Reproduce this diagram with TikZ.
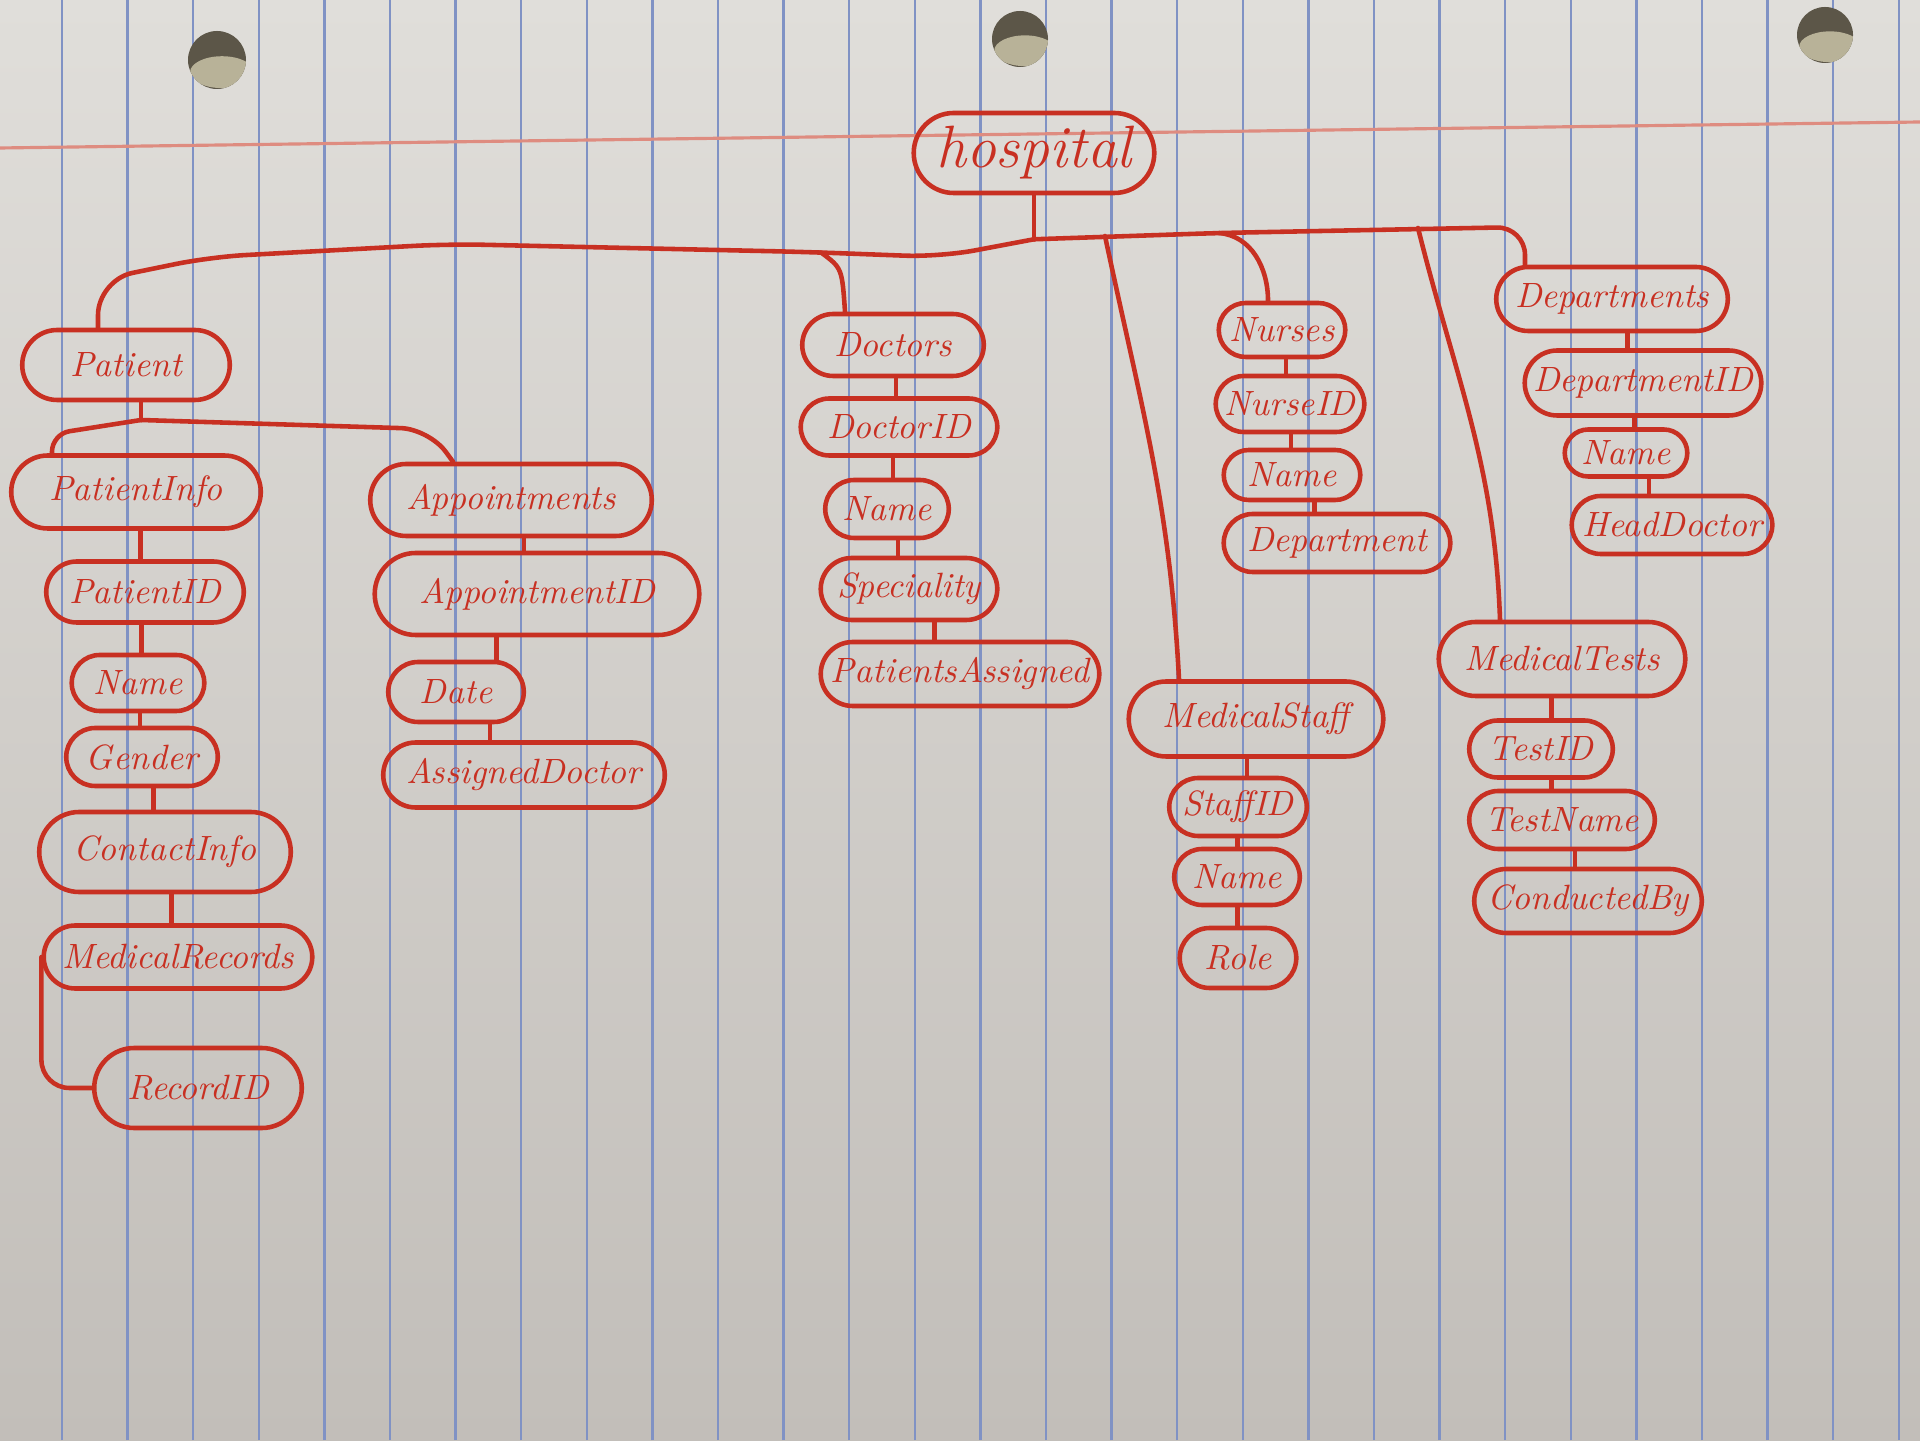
\documentclass[tikz,border=0pt]{standalone}
\usepackage{tikz}
\usetikzlibrary{shapes.misc, calc}

\definecolor{pen}{RGB}{200,48,34}
\definecolor{papertop}{RGB}{224,222,218}
\definecolor{paperbot}{RGB}{194,190,185}
\definecolor{rule}{RGB}{128,146,196}
\definecolor{margin}{RGB}{222,140,128}
\definecolor{hole}{RGB}{92,86,72}
\definecolor{holelight}{RGB}{184,178,152}

\begin{document}
\begin{tikzpicture}[
    ent/.style={rounded rectangle, draw=pen, line width=1.3pt},
    every label/.style={text=pen, font=\fontsize{10}{10}\selectfont\itshape},
    link/.style={draw=pen, line width=1.3pt, line cap=round, line join=round}
]
        % Paper
        \useasboundingbox (0,0) rectangle (19.2,14.4);
        \shade[top color=papertop, bottom color=paperbot] (0,0) rectangle (19.2,14.4);
        \foreach \k in {0,...,28}
            \draw[rule, line width=0.7pt] (0.62+0.656*\k,0) -- (0.62+0.656*\k,14.4);
        \draw[margin, line width=0.9pt] (0,12.92) -- (19.2,13.18);
        \foreach \hx/\hy/\hr in {2.17/13.80/0.29, 10.20/14.01/0.28, 18.25/14.05/0.28} {
            \fill[hole] (\hx,\hy) circle (\hr);
            \begin{scope}
                \clip (\hx,\hy) circle (\hr);
                \fill[holelight] (\hx+0.05,\hy-0.42*\hr) ellipse ({1.1*\hr} and {0.55*\hr});
            \end{scope}
        }

        % Root
        \node[ent, minimum width=2.64cm, minimum height=0.80cm,
              label={[font=\fontsize{17}{17}\selectfont\itshape]center:hospital}] (hospital) at (10.34,12.87) {};

        % Patient
        \node[ent, minimum width=2.31cm, minimum height=0.70cm, label=center:Patient] (patient) at (1.26,10.75) {};
        \node[ent, minimum width=2.73cm, minimum height=0.73cm, label=center:PatientInfo] (patinfo) at (1.36,9.48) {};
        \node[ent, minimum width=2.21cm, minimum height=0.61cm, label=center:PatientID] (patid) at (1.45,8.48) {};
        \node[ent, minimum width=1.56cm, minimum height=0.56cm, label=center:Name] (patname) at (1.38,7.57) {};
        \node[ent, minimum width=1.75cm, minimum height=0.58cm, label=center:Gender] (gender) at (1.42,6.83) {};
        \node[ent, minimum width=2.75cm, minimum height=0.80cm, label=center:ContactInfo] (contact) at (1.65,5.88) {};
        \node[ent, minimum width=2.92cm, minimum height=0.63cm, label=center:MedicalRecords] (medrec) at (1.78,4.83) {};
        \node[ent, minimum width=2.31cm, minimum height=0.80cm, label=center:RecordID] (recid) at (1.98,3.52) {};
        \node[ent, minimum width=3.05cm, minimum height=0.72cm, label=center:Appointments] (appts) at (5.11,9.40) {};
        \node[ent, minimum width=3.48cm, minimum height=0.82cm, label=center:AppointmentID] (apptid) at (5.37,8.46) {};
        \node[ent, minimum width=1.59cm, minimum height=0.60cm, label=center:Date] (date) at (4.56,7.48) {};
        \node[ent, minimum width=3.05cm, minimum height=0.65cm, label=center:AssignedDoctor] (assigned) at (5.24,6.65) {};

        % Doctors
        \node[ent, minimum width=2.05cm, minimum height=0.62cm, label=center:Doctors] (doctors) at (8.93,10.95) {};
        \node[ent, minimum width=2.20cm, minimum height=0.57cm, label=center:DoctorID] (docid) at (8.99,10.13) {};
        \node[ent, minimum width=1.47cm, minimum height=0.58cm, label=center:Name] (docname) at (8.87,9.31) {};
        \node[ent, minimum width=2.00cm, minimum height=0.62cm, label=center:Speciality] (special) at (9.09,8.51) {};
        \node[ent, minimum width=3.02cm, minimum height=0.64cm, label=center:PatientsAssigned] (patassign) at (9.60,7.66) {};

        % Nurses
        \node[ent, minimum width=1.50cm, minimum height=0.54cm, label=center:Nurses] (nurses) at (12.82,11.10) {};
        \node[ent, minimum width=1.72cm, minimum height=0.56cm, label=center:NurseID] (nurseid) at (12.90,10.36) {};
        \node[ent, minimum width=1.60cm, minimum height=0.50cm, label=center:Name] (nursename) at (12.92,9.65) {};
        \node[ent, minimum width=2.50cm, minimum height=0.58cm, label=center:Department] (nursedept) at (13.37,8.97) {};

        % Departments
        \node[ent, minimum width=2.55cm, minimum height=0.64cm, label=center:Departments] (depts) at (16.12,11.41) {};
        \node[ent, minimum width=2.60cm, minimum height=0.65cm, label=center:DepartmentID] (deptid) at (16.43,10.57) {};
        \node[ent, minimum width=1.46cm, minimum height=0.47cm, label=center:Name] (deptname) at (16.26,9.87) {};
        \node[ent, minimum width=2.24cm, minimum height=0.58cm, label=center:HeadDoctor] (head) at (16.72,9.15) {};

        % Medical staff
        \node[ent, minimum width=2.78cm, minimum height=0.75cm, label=center:MedicalStaff] (staff) at (12.56,7.21) {};
        \node[ent, minimum width=1.61cm, minimum height=0.58cm, label=center:StaffID] (staffid) at (12.38,6.33) {};
        \node[ent, minimum width=1.49cm, minimum height=0.56cm, label=center:Name] (staffname) at (12.37,5.63) {};
        \node[ent, minimum width=1.40cm, minimum height=0.60cm, label=center:Role] (role) at (12.38,4.82) {};

        % Medical tests
        \node[ent, minimum width=2.70cm, minimum height=0.74cm, label=center:MedicalTests] (tests) at (15.62,7.81) {};
        \node[ent, minimum width=1.67cm, minimum height=0.57cm, label=center:TestID] (testid) at (15.41,6.91) {};
        \node[ent, minimum width=2.09cm, minimum height=0.58cm, label=center:TestName] (testname) at (15.62,6.20) {};
        \node[ent, minimum width=2.51cm, minimum height=0.64cm, label=center:ConductedBy] (conducted) at (15.88,5.39) {};

        % Branches from the root
        \coordinate (hub) at ($(hospital.south)+(0,-0.44)$);
        \coordinate (patx) at (0.98,11.60);
        \coordinate (docfork) at (8.21,11.875);
        \coordinate (docx) at (8.45,0);
        \coordinate (nurfork) at (12.19,12.07);
        \coordinate (nurx) at (12.68,0);
        \coordinate (staffork) at (11.05,12.04);
        \coordinate (staffx) at (11.79,0);
        \coordinate (testfork) at (14.18,12.12);
        \coordinate (testx) at (15.00,0);
        \coordinate (deptx) at (15.25,12.13);
        \draw[link] (hospital.south) -- (hub);
        \draw[link, rounded corners=10pt] (hub) -- (9.40,11.83) -- (8.07,11.88) -- (4.49,11.96)
            -- (2.10,11.83) -- (patx) -- (patient.north -| patx);
        \draw[link] (docfork) .. controls (8.42,11.72) .. (doctors.north -| docx);
        \draw[link, rounded corners=8pt] (hub) -- (nurfork) -- (deptx) -- (depts.north -| deptx);
        \draw[link] (nurfork) to[out=-5, in=90] (nurses.north -| nurx);
        \draw[link] (staffork) to[out=-78, in=93] (staff.north -| staffx);
        \draw[link] (testfork) to[out=-76, in=92] (tests.north -| testx);

        % Patient sub-branches
        \coordinate (patfork) at (1.41,10.20);
        \coordinate (infox) at (0.52,10.06);
        \coordinate (apptx) at (4.53,0);
        \draw[link] (patient.south -| patfork) -- (patfork);
        \draw[link, rounded corners=5pt] (patfork) -- (infox) -- (patinfo.north -| infox);
        \draw[link, rounded corners=8pt] (patfork) -- (4.29,10.11) -- (appts.north -| apptx);
        \draw[link, rounded corners=8pt] (medrec.west) |- (recid.west);

        % Attribute chains
        \foreach \a/\b in {patinfo/patid, patid/patname, patname/gender, gender/contact, contact/medrec,
                           appts/apptid, apptid/date, date/assigned,
                           doctors/docid, docid/docname, docname/special, special/patassign,
                           nurses/nurseid, nurseid/nursename, nursename/nursedept,
                           depts/deptid, deptid/deptname, deptname/head,
                           staff/staffid, staffid/staffname, staffname/role,
                           tests/testid, testid/testname, testname/conducted} {
            \path ($(\a.south)!0.5!(\b.north)$) coordinate (mid);
            \draw[link] (\a.south -| mid) -- (\b.north -| mid);
        }
\end{tikzpicture}
\end{document}
